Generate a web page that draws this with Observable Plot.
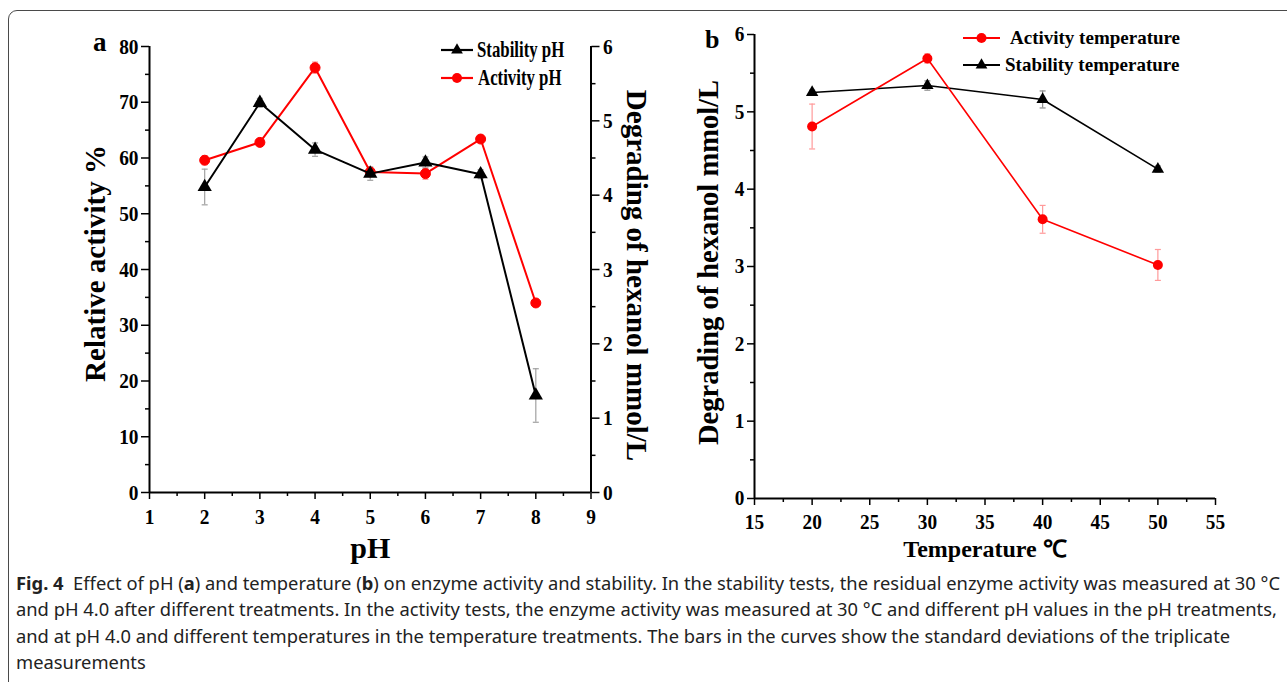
<!DOCTYPE html>
<html><head><meta charset="utf-8">
<script src="https://cdn.jsdelivr.net/npm/d3@7"></script>
<script src="https://cdn.jsdelivr.net/npm/@observablehq/plot@0.6"></script>
<style>
html,body{margin:0;padding:0;background:#fff;}
body{width:1287px;height:682px;overflow:hidden;position:relative;}
#frame{position:absolute;left:8px;top:10px;width:1320px;height:720px;border:1.3px solid #4a4a4a;border-radius:9px;box-sizing:border-box;}
.panel{position:absolute;top:0;}
.lab{position:absolute;font-family:"Liberation Serif","Times New Roman",serif;font-weight:bold;white-space:nowrap;color:#000;transform-origin:0 50%;}
.sw{position:absolute;}
#cap{position:absolute;left:16px;top:570px;font-family:"Noto Sans",sans-serif;font-size:18px;color:#222;}
#cap div{white-space:nowrap;transform-origin:0 50%;height:26.4px;line-height:26.4px;}
</style></head><body>
<div id="frame"></div>
<div id="pa" class="panel" style="left:0"></div>
<div id="pb" class="panel" style="left:660px"></div>
<div id="cap"></div>
<script>
// ---------------- data ----------------
const pH = [2, 3, 4, 5, 6, 7, 8];
const stabilityPH = [54.8, 69.9, 61.5, 57.2, 59.2, 57.1, 17.4];
const stabilityPHErr = [3.2, 0.8, 1.2, 1.2, 1.0, 0.8, 4.8];
const activityPH = [59.6, 62.8, 76.2, 57.5, 57.2, 63.4, 34.0];
const activityPHErr = [0.8, 0.6, 1.0, 0.7, 1.0, 0.6, 0.6];

const temperature = [20, 30, 40, 50];
const activityTemp = [4.81, 5.69, 3.61, 3.02];
const activityTempErr = [0.29, 0.06, 0.18, 0.20];
const stabilityTemp = [5.25, 5.34, 5.16, 4.26];
const stabilityTempErr = [0.03, 0.06, 0.11, 0.04];

const pHTicks = [1, 2, 3, 4, 5, 6, 7, 8, 9];
const relTicks = [0, 10, 20, 30, 40, 50, 60, 70, 80];
const degTicks = [0, 1, 2, 3, 4, 5, 6];
const tempTicks = [15, 20, 25, 30, 35, 40, 45, 50, 55];

const legendA = ["Stability pH", "Activity pH"];
const legendB = ["Activity temperature", "Stability temperature"];
const captionLines = [
  "<b>Fig. 4</b>&nbsp; Effect of pH (<b>a</b>) and temperature (<b>b</b>) on enzyme activity and stability. In the stability tests, the residual enzyme activity was measured at 30 °C",
  "and pH 4.0 after different treatments. In the activity tests, the enzyme activity was measured at 30 °C and different pH values in the pH treatments,",
  "and at pH 4.0 and different temperatures in the temperature treatments. The bars in the curves show the standard deviations of the triplicate",
  "measurements"
];

// ---------------- helpers ----------------
const RED = "#ff0000";
const mids = t => t.slice(0, -1).map((v, i) => (v + t[i + 1]) / 2);
const capSym = w => ({draw(ctx) { ctx.moveTo(-w, 0); ctx.lineTo(w, 0); }});
const rows = (xs, ys, es) => xs.map((x, i) => ({x, y: ys[i], e: es[i]}));
const intFmt = d => String(Math.round(d));
function errMarks(data, color, w) {
  return [
    Plot.ruleX(data, {x: "x", y1: d => d.y - d.e, y2: d => d.y + d.e, stroke: color, strokeWidth: 1.2}),
    Plot.dot(data, {x: "x", y: d => d.y + d.e, symbol: capSym(w), stroke: color, fill: "none", strokeWidth: 1.2}),
    Plot.dot(data, {x: "x", y: d => d.y - d.e, symbol: capSym(w), stroke: color, fill: "none", strokeWidth: 1.2})
  ];
}
function squeeze(nodes, sx, sy) {
  nodes.forEach(t => {
    const tr = t.getAttribute("transform") || "";
    if (/rotate/.test(tr)) t.setAttribute("transform", tr + ` scale(1,${sy})`);
    else if (tr) t.setAttribute("transform", tr + ` scale(${sx},1)`);
    else {
      const x = +t.getAttribute("x") || 0, y = +t.getAttribute("y") || 0;
      t.setAttribute("transform", `translate(${x},${y}) scale(${sx},1) translate(${-x},${-y})`);
    }
  });
}
const STYLE = {fontFamily: "'Liberation Serif','Times New Roman',serif", fontWeight: "bold", background: "transparent", color: "#000", overflow: "visible"};

// ---------------- panel a ----------------
{
  const stab = rows(pH, stabilityPH, stabilityPHErr);
  const act = rows(pH, activityPH, activityPHErr);
  const toRel = v => v * 80 / 6;
  const chart = Plot.plot({
    width: 660, height: 560, marginLeft: 149, marginRight: 69.5, marginTop: 46, marginBottom: 68,
    style: STYLE,
    x: {domain: [1, 9]}, y: {domain: [0, 80]},
    marks: [
      Plot.axisX(pHTicks, {tickSize: 7, tickPadding: 9, fontSize: 22, label: null, strokeWidth: 1.5, tickFormat: intFmt}),
      Plot.axisX(mids(pHTicks), {tickSize: 4, tickFormat: () => "", label: null, strokeWidth: 1.5}),
      Plot.axisY(relTicks, {anchor: "left", tickSize: 8, tickPadding: 3, fontSize: 22, label: null, strokeWidth: 1.5, tickFormat: intFmt}),
      Plot.axisY(mids(relTicks), {anchor: "left", tickSize: 4, tickFormat: () => "", label: null, strokeWidth: 1.5}),
      Plot.axisY(degTicks.map(toRel), {anchor: "right", tickSize: 8, tickPadding: 4, fontSize: 22, label: null, strokeWidth: 1.5, tickFormat: d => String(Math.round(d * 6 / 80))}),
      Plot.axisY(mids(degTicks).map(toRel), {anchor: "right", tickSize: 4, tickFormat: () => "", label: null, strokeWidth: 1.5}),
      Plot.ruleX([1], {strokeWidth: 2}),
      Plot.ruleX([9], {strokeWidth: 2}),
      Plot.ruleY([0], {strokeWidth: 2}),
      ...errMarks(act, "#ff8c8c", 3),
      ...errMarks(stab, "#a0a0a0", 3),
      Plot.line(act, {x: "x", y: "y", stroke: RED, strokeWidth: 2}),
      Plot.dot(act, {x: "x", y: "y", r: 5, fill: RED, stroke: RED, strokeWidth: 1}),
      Plot.line(stab, {x: "x", y: "y", stroke: "#000", strokeWidth: 2}),
      Plot.dot(stab, {x: "x", y: "y", r: 5.3, symbol: "triangle", fill: "#000"}),
      Plot.text(["Relative activity %"], {frameAnchor: "left", textAnchor: "middle", lineAnchor: "middle", rotate: -90, dx: -54, dy: -6, fontSize: 29, ariaLabel: "ytitle"}),
      Plot.text(["Degrading of hexanol mmol/L"], {frameAnchor: "right", textAnchor: "middle", lineAnchor: "middle", rotate: 90, dx: 45.5, dy: 6, fontSize: 29, ariaLabel: "ytitle2"}),
      Plot.text(["pH"], {frameAnchor: "bottom", textAnchor: "middle", lineAnchor: "middle", dy: 56, fontSize: 30, ariaLabel: "xtitle"})
    ]
  });
  squeeze(chart.querySelectorAll('g[aria-label="xtitle"] text'), 0.7, 1);
  squeeze(chart.querySelectorAll('g[aria-label="ytitle"] text, g[aria-label="ytitle2"] text'), 1, 0.66);
  squeeze(chart.querySelectorAll('g[aria-label$="tick label"] text'), 0.88, 1);
  document.getElementById("pa").append(chart);
}

// ---------------- panel b ----------------
{
  const act = rows(temperature, activityTemp, activityTempErr);
  const stab = rows(temperature, stabilityTemp, stabilityTempErr);
  const chart = Plot.plot({
    width: 627, height: 560, marginLeft: 94, marginRight: 72, marginTop: 34, marginBottom: 62,
    style: STYLE,
    x: {domain: [15, 55]}, y: {domain: [0, 6]},
    marks: [
      Plot.axisX(tempTicks, {tickSize: 7, tickPadding: 9, fontSize: 21, label: null, strokeWidth: 1.5, tickFormat: intFmt}),
      Plot.axisX(mids(tempTicks), {tickSize: 4, tickFormat: () => "", label: null, strokeWidth: 1.5}),
      Plot.axisY(degTicks, {anchor: "left", tickSize: 7, tickPadding: 3, fontSize: 21, label: null, strokeWidth: 1.5, tickFormat: intFmt}),
      Plot.axisY(mids(degTicks), {anchor: "left", tickSize: 4, tickFormat: () => "", label: null, strokeWidth: 1.5}),
      Plot.ruleX([15], {strokeWidth: 2}),
      Plot.ruleY([0], {strokeWidth: 2}),
      ...errMarks(stab, "#8c8c8c", 3),
      ...errMarks(act, "#ff9a9a", 3),
      Plot.line(stab, {x: "x", y: "y", stroke: "#000", strokeWidth: 1.6}),
      Plot.dot(stab, {x: "x", y: "y", r: 4.6, symbol: "triangle", fill: "#000"}),
      Plot.line(act, {x: "x", y: "y", stroke: RED, strokeWidth: 1.6}),
      Plot.dot(act, {x: "x", y: "y", r: 5, fill: RED}),
      Plot.text(["Degrading of hexanol mmol/L"], {frameAnchor: "left", textAnchor: "middle", lineAnchor: "middle", rotate: -90, dx: -46, dy: -4, fontSize: 28.5, ariaLabel: "ytitle"}),
      Plot.text(["Temperature ℃"], {frameAnchor: "bottom", textAnchor: "middle", lineAnchor: "middle", dy: 51, fontSize: 24, ariaLabel: "xtitle"})
    ]
  });
  squeeze(chart.querySelectorAll('g[aria-label="xtitle"] text'), 0.78, 1);
  squeeze(chart.querySelectorAll('g[aria-label="ytitle"] text'), 1, 0.68);
  squeeze(chart.querySelectorAll('g[aria-label$="tick label"] text'), 0.92, 1);
  document.getElementById("pb").append(chart);
}

// ---------------- legends & panel letters (HTML overlays) ----------------
function label(text, left, cy, size, sx) {
  const d = document.createElement("div");
  d.className = "lab";
  d.textContent = text;
  d.style.left = left + "px";
  d.style.top = (cy - size * 0.6) + "px";
  d.style.fontSize = size + "px";
  d.style.lineHeight = (size * 1.2) + "px";
  d.style.transform = `scaleX(${sx})`;
  document.body.append(d);
}
function swatch(x0, x1, cy, color, shape, lw) {
  const ns = "http://www.w3.org/2000/svg";
  const s = document.createElementNS(ns, "svg");
  s.setAttribute("class", "sw");
  s.setAttribute("width", x1 - x0 + 4);
  s.setAttribute("height", 20);
  s.style.left = (x0 - 2) + "px";
  s.style.top = (cy - 10) + "px";
  const g = d3.select(s);
  g.append("line").attr("x1", 2).attr("x2", x1 - x0 + 2).attr("y1", 10).attr("y2", 10).attr("stroke", color).attr("stroke-width", lw);
  const cx = (x1 - x0) / 2 + 2;
  if (shape === "triangle") g.append("path").attr("d", d3.symbol(d3.symbolTriangle, 60)()).attr("transform", `translate(${cx},10)`).attr("fill", color);
  else g.append("circle").attr("cx", cx).attr("cy", 10).attr("r", 5).attr("fill", color);
  document.body.append(s);
}
swatch(441, 473, 50, "#000", "triangle", 2.2);
label(legendA[0], 477, 50, 23, 0.73);
swatch(441, 473, 78, RED, "circle", 2.2);
label(legendA[1], 478, 78, 23, 0.73);

swatch(963, 1000, 38, RED, "circle", 1.8);
label(legendB[0], 1010, 38, 19, 1);
swatch(963, 1000, 65, "#000", "triangle", 1.8);
label(legendB[1], 1005, 65, 19, 1);

label("a", 93, 42, 27, 1);
label("b", 705, 40, 26, 1);

// ---------------- caption ----------------
{
  const cap = document.getElementById("cap");
  captionLines.forEach(h => { const d = document.createElement("div"); d.innerHTML = h; cap.append(d); });
  const first = cap.firstChild;
  const w = first.getBoundingClientRect().width;
  const s = 1264 / w;
  cap.querySelectorAll("div").forEach(d => d.style.transform = `scaleX(${s})`);
}
</script>
</body></html>
